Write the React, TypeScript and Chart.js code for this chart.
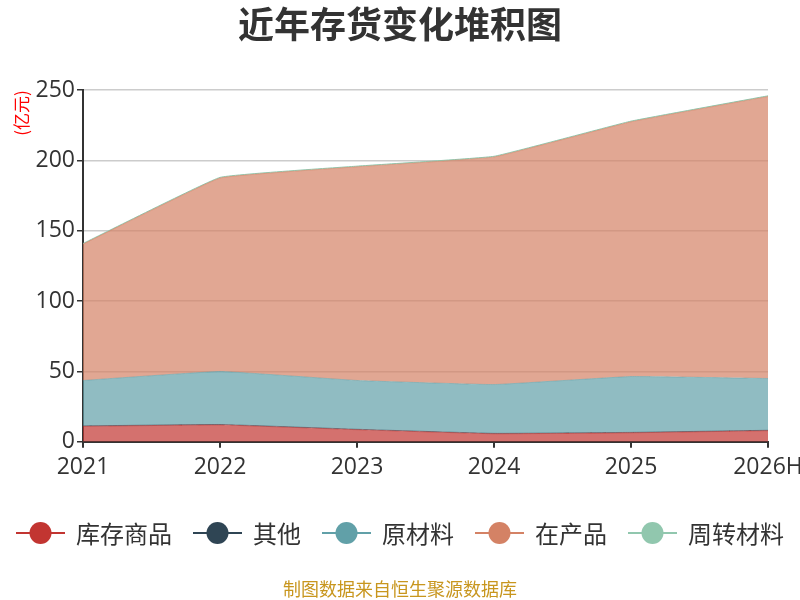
import { useEffect, useRef } from "react"
import { Chart, registerables } from "chart.js"

Chart.register(...registerables)

const years = ["2021", "2022", "2023", "2024", "2025", "2026H"]
const seriesNames = ["库存商品", "其他", "原材料", "在产品", "周转材料"]
const seriesColors = ["#c23531", "#2f4554", "#61a0a8", "#d48265", "#91c7ae"]
const fillColors = [
  "rgba(194,53,49,0.7)",
  "rgba(47,69,84,0.7)",
  "rgba(97,160,168,0.7)",
  "rgba(212,130,101,0.7)",
  "rgba(145,199,174,0.7)",
]

// 亿元
const kucunShangpin = [11, 12, 8.6, 5.7, 6.4, 7.9]
const qita = [0.3, 0.3, 0.3, 0.3, 0.3, 0.3]
const yuanCailiao = [32.3, 37.7, 34.7, 34.7, 39.7, 36.8]
const zaiChanpin = [96.9, 137.5, 151.9, 161.8, 181.1, 200.5]
const zhouzhuanCailiao = [0.5, 0.5, 0.5, 0.5, 0.5, 0.5]

const seriesValues = [kucunShangpin, qita, yuanCailiao, zaiChanpin, zhouzhuanCailiao]

const CJK = "'Noto Sans CJK SC', 'Noto Sans', sans-serif"
const NUM = "'Open Sans', 'Noto Sans CJK SC', sans-serif"

// one-row legend: line + circle marker, then the label
const lineLegend = {
  id: "lineLegend",
  afterDraw(chart: Chart) {
    const ctx = chart.ctx
    const markerW = 49
    const gap = 11
    const itemGap = 21
    const cy = chart.height - 67
    ctx.save()
    ctx.font = `24px ${CJK}`
    const items = chart.data.datasets.map((ds) => ({
      label: String(ds.label),
      color: String(ds.borderColor),
      w: markerW + gap + ctx.measureText(String(ds.label)).width,
    }))
    const total = items.reduce((s, it) => s + it.w, 0) + itemGap * (items.length - 1)
    let x = (chart.width - total) / 2
    items.forEach((it) => {
      ctx.strokeStyle = it.color
      ctx.lineWidth = 2
      ctx.beginPath()
      ctx.moveTo(x, cy)
      ctx.lineTo(x + markerW, cy)
      ctx.stroke()
      ctx.fillStyle = it.color
      ctx.beginPath()
      ctx.arc(x + markerW / 2, cy, 11, 0, Math.PI * 2)
      ctx.fill()
      ctx.fillStyle = "#333"
      ctx.textAlign = "left"
      ctx.textBaseline = "middle"
      ctx.fillText(it.label, x + markerW + gap, cy + 1)
      x += it.w + itemGap
    })
    ctx.restore()
  },
}

export default function App() {
  const chartRef = useRef<HTMLCanvasElement>(null)
  const chartInstance = useRef<Chart | null>(null)

  useEffect(() => {
    if (!chartRef.current) return
    const ctx = chartRef.current.getContext("2d")
    if (!ctx) return
    if (chartInstance.current) chartInstance.current.destroy()

    chartInstance.current = new Chart(ctx, {
      type: "line",
      data: {
        labels: years,
        datasets: seriesNames.map((name, i) => ({
          label: name,
          data: seriesValues[i],
          borderColor: seriesColors[i],
          backgroundColor: fillColors[i],
          borderWidth: i === 4 ? 1 : 0.5,
          fill: i === 0 ? "origin" : "-1",
          pointRadius: 0,
          tension: 0.08,
        })),
      },
      options: {
        animation: false,
        responsive: true,
        maintainAspectRatio: false,
        layout: { padding: 0 },
        scales: {
          x: {
            offset: false,
            grid: {
              display: true,
              drawOnChartArea: false,
              drawTicks: true,
              tickLength: 6,
              color: "#333",
              lineWidth: 2,
            },
            border: { color: "#333", width: 2 },
            ticks: { color: "#333", font: { family: NUM, size: 23 }, padding: 6, maxRotation: 0 },
            afterFit: (scale: any) => {
              scale.paddingRight = 32
            },
          },
          y: {
            stacked: true,
            min: 0,
            max: 250,
            ticks: { stepSize: 50, color: "#333", font: { family: NUM, size: 23 }, padding: 2 },
            grid: { color: "#ccc", lineWidth: 1.5, tickLength: 6, tickColor: "#333" },
            border: { color: "#333", width: 2 },
            title: {
              display: true,
              text: "(亿元)",
              align: "end",
              color: "red",
              font: { family: CJK, size: 17 },
              padding: { top: 11, bottom: 0 },
            },
            afterFit: (scale: any) => {
              scale.width = 83
            },
          },
        },
        plugins: {
          title: {
            display: true,
            text: "近年存货变化堆积图",
            color: "#333",
            font: { family: CJK, size: 36, weight: "bold" },
            padding: { top: 3, bottom: 44 },
          },
          subtitle: {
            display: true,
            position: "bottom",
            text: "制图数据来自恒生聚源数据库",
            color: "#c8961e",
            font: { family: CJK, size: 18 },
            padding: { top: 91, bottom: 0 },
          },
          legend: { display: false },
          tooltip: { enabled: false },
        },
      },
      plugins: [lineLegend],
    })

    return () => {
      if (chartInstance.current) {
        chartInstance.current.destroy()
        chartInstance.current = null
      }
    }
  }, [])

  return (
    <div style={{ position: "fixed", left: 0, top: 0, width: 800, height: 600, background: "#fff" }}>
      <canvas ref={chartRef}></canvas>
    </div>
  )
}
